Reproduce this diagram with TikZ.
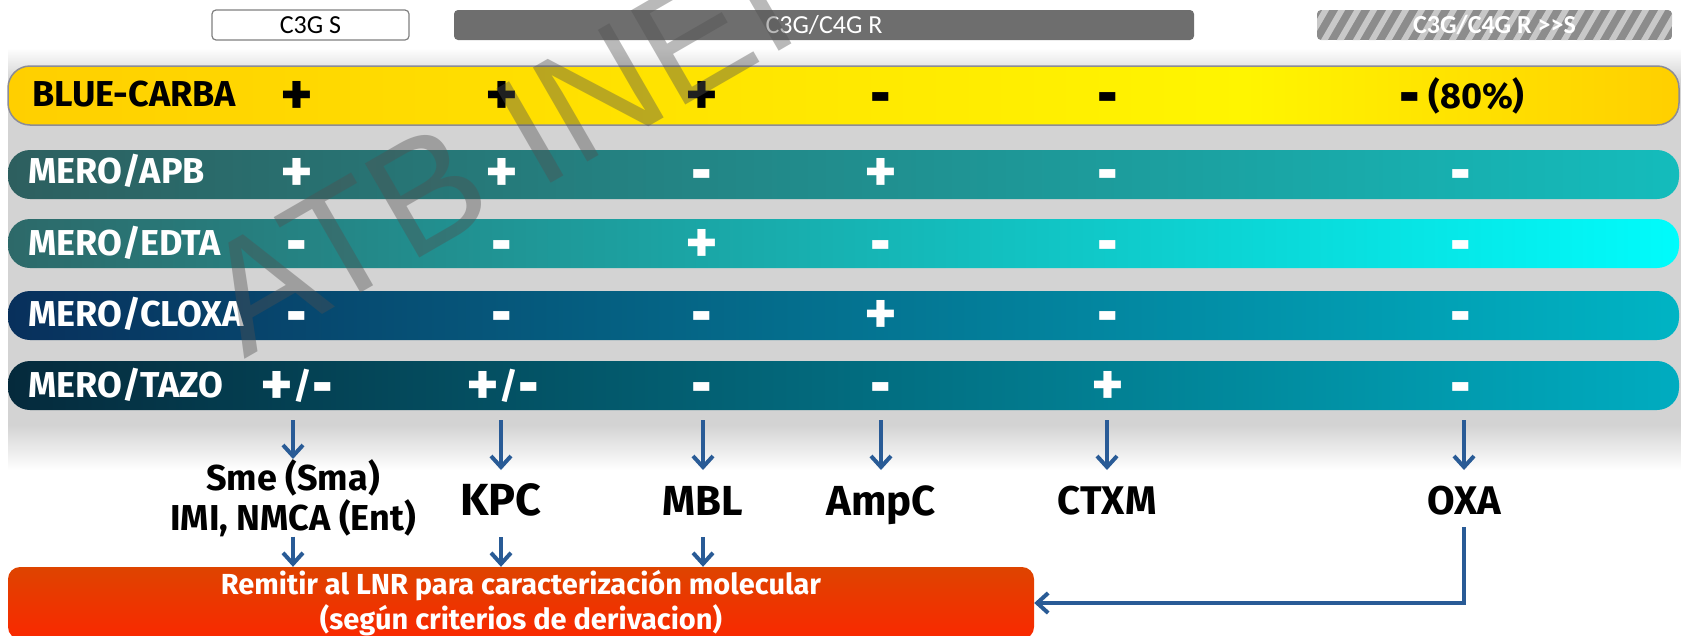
\documentclass[tikz,border=0pt]{standalone}
\usepackage{fontspec}
\setmainfont{Fira Sans}
\newfontfamily\tagfont{Carlito}
\newfontfamily\markfont{Liberation Sans}
\usetikzlibrary{arrows.meta}

\definecolor{panelgray}{RGB}{211,211,211}
\definecolor{goldbar}{RGB}{255,207,0}
\definecolor{lemon}{RGB}{255,245,0}
\definecolor{barline}{RGB}{140,140,150}
\definecolor{apbleft}{RGB}{45,95,95}
\definecolor{apbright}{RGB}{20,188,188}
\definecolor{edtaleft}{RGB}{45,105,105}
\definecolor{edtaright}{RGB}{0,252,252}
\definecolor{cloxaleft}{RGB}{8,48,92}
\definecolor{cloxaright}{RGB}{0,180,196}
\definecolor{tazoleft}{RGB}{5,42,60}
\definecolor{tazoright}{RGB}{0,172,192}
\definecolor{arrowblue}{RGB}{41,91,150}
\definecolor{darktag}{RGB}{110,110,110}
\definecolor{hatchgray}{RGB}{140,140,140}
\definecolor{hatchlight}{RGB}{200,200,200}
\definecolor{lnrtop}{RGB}{222,68,0}
\definecolor{lnrbottom}{RGB}{250,40,0}
\definecolor{markgray}{RGB}{80,80,80}

\pgfdeclarehorizontalshading{yellowbar}{100bp}{color(0bp)=(goldbar); color(25bp)=(goldbar); color(62bp)=(lemon); color(75bp)=(goldbar); color(100bp)=(goldbar)}

% big plus and chunky minus of the result grid
\newcommand{\pos}{\raisebox{-7pt}{\fontsize{62}{62}\selectfont+}}
\newcommand{\mnus}{\raisebox{-11pt}{\scalebox{1.4}[2]{-}}}

\begin{document}
\begin{tikzpicture}[x=1pt,y=-1pt,
    bar/.style={minimum width=1671pt,minimum height=49pt,rounded corners=22pt,inner sep=0pt},
    rowlbl/.style={anchor=base west,font=\bfseries\fontsize{36}{40}\selectfont,text=white,inner sep=0pt},
    res/.style={anchor=base,font=\bfseries\fontsize{36}{40}\selectfont,text=white,inner sep=0pt},
    tag/.style={minimum height=30pt,rounded corners=4pt,inner sep=0pt,font=\tagfont\fontsize{26}{28}\selectfont},
    outcome/.style={anchor=north,inner sep=0pt},
    flow/.style={draw=arrowblue,line width=4pt,-{Straight Barb[length=11pt,width=20pt]}},
    stripe/.style={draw=hatchlight,line width=6pt},
    lnrbox/.style={minimum width=1026pt,minimum height=72pt,rounded corners=12pt,top color=lnrtop,bottom color=lnrbottom,text=white,align=center,font=\bfseries\fontsize{29}{35}\selectfont,inner sep=0pt}]
    \useasboundingbox (0,0) rectangle (1681,635);

    % grey panel behind the rows
    \shade[top color=white,bottom color=panelgray] (8,48) rectangle (1681,80);
    \fill[panelgray] (8,80) rectangle (1681,425);
    \shade[top color=panelgray,bottom color=white] (8,425) rectangle (1681,470);

    % header tags
    \node[tag,draw=gray,line width=1.2pt,fill=white,minimum width=197pt] (susc) at (310.5,25) {C3G S};
    \node[tag,fill=darktag,text=white,minimum width=740pt] (resist) at (824,25) {C3G/C4G R};
    \begin{scope}
      \clip[rounded corners=4pt] (1317,10) rectangle (1672,40);
      \fill[hatchgray] (1317,10) rectangle (1672,40);
      \foreach \s in {1290,1306,...,1680}
        \draw[stripe] (\s,44) -- ++(22,-38);
    \end{scope}
    \node[tag,text=white,font=\tagfont\bfseries\fontsize{26}{28}\selectfont] (ratio) at (1494.5,25) {C3G/C4G R >{}>S};

    % rows
    \node[bar,shade,shading=yellowbar,draw=barline,line width=1.5pt,minimum height=59pt] (blue) at (843.5,95.5) {};
    \node[bar,left color=apbleft,right color=apbright] (apb) at (843.5,174.5) {};
    \node[bar,left color=edtaleft,right color=edtaright] (edta) at (843.5,243.5) {};
    \node[bar,left color=cloxaleft,right color=cloxaright] (cloxa) at (843.5,315.5) {};
    \node[bar,left color=tazoleft,right color=tazoright] (tazo) at (843.5,385.5) {};

    \node[rowlbl,text=black] (lblblue) at (32,106) {BLUE-CARBA};
    \node[rowlbl] (lblapb) at (28,183) {MERO/APB};
    \node[rowlbl] (lbledta) at (28,255) {MERO/EDTA};
    \node[rowlbl] (lblcloxa) at (28,326) {MERO/CLOXA};
    \node[rowlbl] (lbltazo) at (28,397) {MERO/TAZO};

    \foreach \x/\sgn [count=\i] in {297/\pos,502/\pos,702/\pos,881/\mnus,1108/\mnus,1462/{\mnus{} (80\%)}}
      \node[res,text=black] (blue\i) at (\x,108) {\sgn};
    \foreach \x/\sgn [count=\i] in {297/\pos,502/\pos,702/\mnus,881/\pos,1108/\mnus,1461/\mnus}
      \node[res] (apb\i) at (\x,185) {\sgn};
    \foreach \x/\sgn [count=\i] in {297/\mnus,502/\mnus,702/\pos,881/\mnus,1108/\mnus,1461/\mnus}
      \node[res] (edta\i) at (\x,256) {\sgn};
    \foreach \x/\sgn [count=\i] in {297/\mnus,502/\mnus,702/\mnus,881/\pos,1108/\mnus,1461/\mnus}
      \node[res] (cloxa\i) at (\x,327) {\sgn};
    \foreach \x/\sgn [count=\i] in {297/{\pos/\mnus},503/{\pos/\mnus},702/\mnus,881/\mnus,1108/\pos,1461/\mnus}
      \node[res] (tazo\i) at (\x,398) {\sgn};

    % watermark
    \node[anchor=base west,rotate=30,font=\markfont\fontsize{158}{158}\selectfont,text=markgray,text opacity=0.4,inner sep=0pt] (stamp) at (244,360) {ATB INEI};

    % enzyme families
    \node[outcome,font=\bfseries\fontsize{36}{40}\selectfont,align=center] (sme) at (293,459) {Sme (Sma)\\IMI, NMCA (Ent)};
    \node[outcome,font=\bfseries\fontsize{45}{48}\selectfont,text height=45pt,text depth=22pt] (kpc) at (501,470) {KPC};
    \node[outcome,font=\bfseries\fontsize{42}{46}\selectfont,text height=45pt,text depth=22pt] (mbl) at (703,470) {MBL};
    \node[outcome,font=\bfseries\fontsize{42}{46}\selectfont,text height=45pt] (ampc) at (881,470) {AmpC};
    \node[outcome,font=\bfseries\fontsize{40}{44}\selectfont,text height=44pt] (ctxm) at (1107,470) {CTXM};
    \node[outcome,font=\bfseries\fontsize{40}{44}\selectfont,text height=44pt,text depth=13pt] (oxa) at (1464,470) {OXA};

    \node[lnrbox] (lnr) at (521,603) {Remitir al LNR para caracterización molecular\\(según criterios de derivacion)};

    % arrows
    \foreach \n in {sme,kpc,mbl,ampc,ctxm,oxa}
      \draw[flow,shorten <=10pt] (tazo.south -| \n.north) -- (\n.north);
    \foreach \n in {sme,kpc,mbl}
      \draw[flow] (\n.south) -- (\n.south |- lnr.north);
    \draw[flow] (oxa.south) |- (lnr.east);
\end{tikzpicture}
\end{document}
